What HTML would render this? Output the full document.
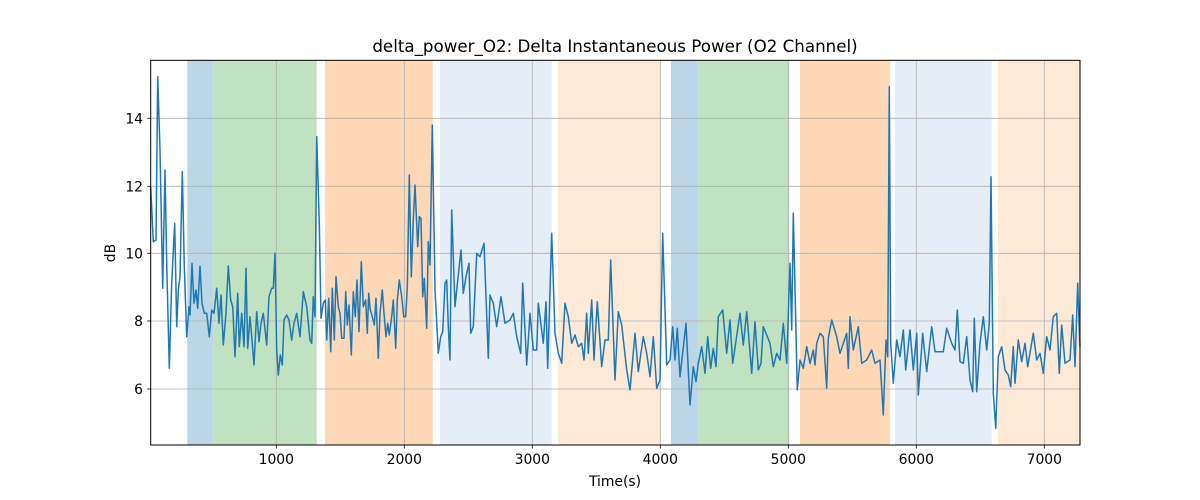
<!DOCTYPE html>
<html><head><meta charset="utf-8"><style>body{margin:0;background:#fff}svg{display:block}text{font-family:"DejaVu Sans","Liberation Sans",sans-serif;fill:#000}</style></head>
<body>
<svg id="s" width="1200" height="500" xmlns="http://www.w3.org/2000/svg">
<rect width="1200" height="500" fill="#fff"/>
<g>
<rect x="187.3" y="60.3" width="26" height="384.7" fill="#bcd6e8"/>
<rect x="213.3" y="60.3" width="103.4" height="384.7" fill="#c0e2c0"/>
<rect x="325" y="60.3" width="107.7" height="384.7" fill="#ffd9b7"/>
<rect x="440" y="60.3" width="111.7" height="384.7" fill="#e5edf7"/>
<rect x="558" y="60.3" width="102.7" height="384.7" fill="#fee9d6"/>
<rect x="671" y="60.3" width="27.7" height="384.7" fill="#bcd6e8"/>
<rect x="698.7" y="60.3" width="90.6" height="384.7" fill="#c0e2c0"/>
<rect x="800" y="60.3" width="90" height="384.7" fill="#ffd9b7"/>
<rect x="895" y="60.3" width="96.7" height="384.7" fill="#e5edf7"/>
<rect x="998" y="60.3" width="82" height="384.7" fill="#fee9d6"/>
</g>
<g stroke="#b0b0b0" stroke-width="0.8">
<line x1="276.3" x2="276.3" y1="60.3" y2="445"/><line x1="404.3" x2="404.3" y1="60.3" y2="445"/><line x1="532.3" x2="532.3" y1="60.3" y2="445"/><line x1="660.3" x2="660.3" y1="60.3" y2="445"/><line x1="788.3" x2="788.3" y1="60.3" y2="445"/><line x1="916.3" x2="916.3" y1="60.3" y2="445"/><line x1="1044.3" x2="1044.3" y1="60.3" y2="445"/>
<line x1="150.7" x2="1080" y1="118.3" y2="118.3"/><line x1="150.7" x2="1080" y1="186.3" y2="186.3"/><line x1="150.7" x2="1080" y1="253.3" y2="253.3"/><line x1="150.7" x2="1080" y1="321" y2="321"/><line x1="150.7" x2="1080" y1="389" y2="389"/>
</g>
<polyline id="ln" fill="none" stroke="#1f77b4" stroke-width="1.5" stroke-linejoin="round"/>
<rect x="150.7" y="60.3" width="929.3" height="384.7" fill="none" stroke="#000" stroke-width="1"/>
<g stroke="#000" stroke-width="0.8">
<line x1="276.3" x2="276.3" y1="445" y2="448.5"/><line x1="404.3" x2="404.3" y1="445" y2="448.5"/><line x1="532.3" x2="532.3" y1="445" y2="448.5"/><line x1="660.3" x2="660.3" y1="445" y2="448.5"/><line x1="788.3" x2="788.3" y1="445" y2="448.5"/><line x1="916.3" x2="916.3" y1="445" y2="448.5"/><line x1="1044.3" x2="1044.3" y1="445" y2="448.5"/>
<line x1="147.2" x2="150.7" y1="118.3" y2="118.3"/><line x1="147.2" x2="150.7" y1="186.3" y2="186.3"/><line x1="147.2" x2="150.7" y1="253.3" y2="253.3"/><line x1="147.2" x2="150.7" y1="321" y2="321"/><line x1="147.2" x2="150.7" y1="389" y2="389"/>
</g>
<g font-size="13.9" text-anchor="middle">
<text x="276.3" y="464">1000</text><text x="404.3" y="464">2000</text><text x="532.3" y="464">3000</text><text x="660.3" y="464">4000</text><text x="788.3" y="464">5000</text><text x="916.3" y="464">6000</text><text x="1044.3" y="464">7000</text>
</g>
<g font-size="13.9" text-anchor="end">
<text x="143" y="123.3">14</text><text x="143" y="191.3">12</text><text x="143" y="258.3">10</text><text x="143" y="326">8</text><text x="143" y="394">6</text>
</g>
<text x="615" y="486" font-size="13.9" text-anchor="middle">Time(s)</text>
<text x="115" y="253" font-size="13.9" text-anchor="middle" transform="rotate(-90 115 253)">dB</text>
<text x="615" y="52" font-size="16.7" text-anchor="middle">delta_power_O2: Delta Instantaneous Power (O2 Channel)</text>
</svg>
<script>
var z1=[32,410,40,575,48,570,53,80,60,300,68,715,75,360,80,640,88,955,95,700,104,520,110,830,115,720,120,680,127,365,133,650,140,860,147,770,150,795,156,640,162,760,168,720,173,775,180,648,186,760,193,790,200,790,208,860,215,780,222,790,230,715,237,820,243,735,250,885,258,790,265,648,272,750,278,770,285,920,293,730,298,890,305,790,312,890,318,655,323,895,330,800,336,870,342,945,350,785,357,875,363,820,370,790,380,885,387,740,395,715,400,715,405,610,410,900,415,975,421,915,427,945,432,810,440,795,447,810,455,870,462,820,470,790,480,860,490,725,500,770,510,870,515,880,520,740,525,800,530,260,538,520,543,805,550,760,556,750,560,870,566,745,572,905,577,715,583,870,588,680,595,770,600,790,605,865,612,865,617,725,622,825,627,765,634,915,640,725,646,800,651,690,657,845,664,635,670,770,677,750,682,850,686,730,691,780,697,800,703,825,708,745,715,925,720,790,727,720,732,790,738,860,743,820,748,855,755,800,760,750,767,895,772,750,778,690,785,740,791,800,797,800,802,710,808,375,814,680,820,510,825,405,833,590,838,500,843,505,848,740,853,685,860,835,865,575,870,645,877,225,885,720,895,910,902,860,908,845,915,700,920,690,925,830,930,930];
var z2=[35,480,45,770,50,720,63,600,70,730,78,680,87,640,92,850,100,830,110,610,120,620,132,580,145,925,150,735,160,760,170,830,183,740,195,820,210,810,220,790,230,860,242,910,248,700,260,945,270,790,280,900,290,900,295,760,310,880,318,755,323,955,335,550,345,850,355,910,365,940,375,760,385,800,395,880,405,855,415,890,425,880,432,930,440,790,445,910,455,750,462,930,472,755,485,950,495,870,505,870,512,630,525,990,535,785,545,825,560,960,570,1020,585,850,595,965,610,860,620,910,630,980,640,860,650,1015,660,990,668,550,680,945,690,930,698,830,705,930,712,835,720,980,738,820,750,1065,760,950,768,995,775,940,785,890,795,970,803,860,812,955,820,895,828,950,835,800,848,780,860,910,870,810,878,940,900,790,910,885,920,785,935,970,945,815,955,960];
var z3=[3,940,10,830,30,880,40,950,50,910,60,930,70,820,80,940,90,640,95,840,100,490,112,1020,120,930,130,955,140,890,150,940,160,900,165,945,170,880,180,850,190,860,200,1015,205,865,215,810,230,860,240,910,260,850,265,955,270,800,280,900,295,830,305,940,320,930,335,900,345,940,360,930,370,1095,378,870,383,920,388,110,392,880,400,1000,410,870,420,920,430,840,437,960,450,840,460,960,470,850,475,1035,488,850,500,965,515,830,525,905,550,905,560,835,575,880,585,900,592,780,600,935,610,940,620,860,630,990,638,1025,643,805,650,1025,660,880,670,800,680,900,688,820,693,380,700,1030,707,1135,715,920,725,890,735,960,745,975,752,1010,760,890,765,1000,775,870,785,935,795,880,803,950,820,850,830,930,840,910,850,970,860,860,870,900,880,800,890,790,898,970,905,825,915,940,930,930,938,795,945,950,953,700,960,890];
var p=[];function add(a,ox){for(var i=0;i<a.length;i+=2)p.push((ox+a[i]/3).toFixed(1)+","+(50+a[i+1]/3).toFixed(1));}
add(z1,140);add(z2,440);add(z3,760);
document.getElementById('ln').setAttribute('points',p.join(' '));
</script>
</body></html>
